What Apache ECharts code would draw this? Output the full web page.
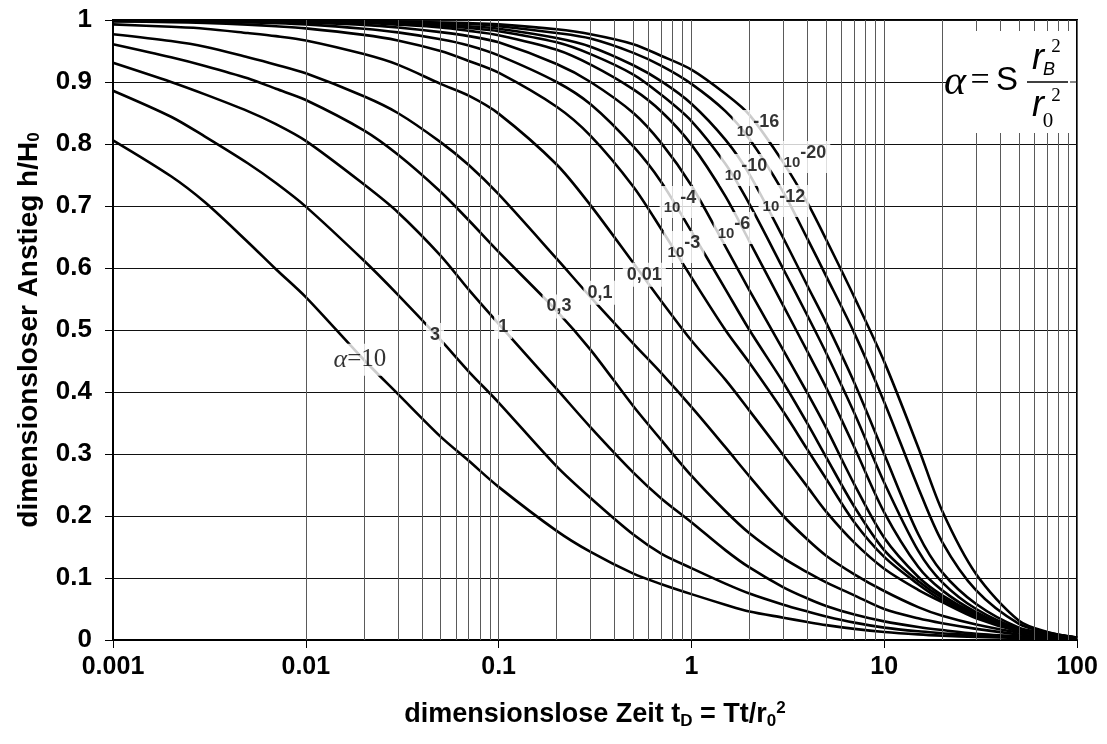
<!DOCTYPE html>
<html><head><meta charset="utf-8">
<script src="https://cdn.jsdelivr.net/npm/echarts@6/dist/echarts.min.js"></script>
<style>html,body{margin:0;padding:0;background:#fff}#c{width:1107px;height:744px}</style>
</head><body><div id="c"></div>
<script>
// shared time grid (dimensionless time t_D)
const tGrid = [0.001,0.002,0.003,0.005,0.007,0.01,0.02,0.03,0.05,0.07,0.1,0.2,0.3,0.5,0.7,1,1.5,2,3,4,5,7,10,15,20,30,50,70,100];
// h/H0 for each alpha curve
const h_a10   = [0.806,0.748,0.706,0.642,0.598,0.553,0.452,0.397,0.328,0.289,0.247,0.176,0.142,0.107,0.09,0.074,0.057,0.046,0.036,0.029,0.024,0.018,0.013,0.009,0.007,0.005,0.0035,0.0028,0.0022];
const h_a3    = [0.886,0.844,0.812,0.769,0.737,0.699,0.612,0.557,0.484,0.433,0.383,0.28,0.229,0.17,0.139,0.116,0.091,0.075,0.057,0.046,0.038,0.028,0.02,0.014,0.011,0.007,0.0045,0.0035,0.0024];
const h_a1    = [0.931,0.9,0.88,0.853,0.832,0.805,0.735,0.69,0.62,0.565,0.51,0.405,0.343,0.27,0.228,0.19,0.145,0.117,0.085,0.067,0.055,0.041,0.03,0.021,0.016,0.01,0.006,0.0045,0.0026];
const h_a03   = [0.961,0.94,0.926,0.906,0.889,0.871,0.822,0.783,0.723,0.677,0.626,0.531,0.468,0.377,0.322,0.265,0.208,0.172,0.132,0.109,0.093,0.072,0.05,0.035,0.027,0.018,0.009,0.006,0.0028];
const h_a01   = [0.977,0.966,0.957,0.94,0.928,0.914,0.877,0.85,0.803,0.766,0.719,0.615,0.553,0.478,0.43,0.376,0.311,0.264,0.2,0.162,0.136,0.106,0.079,0.053,0.039,0.025,0.012,0.0075,0.0029];
const h_a001  = [0.993,0.989,0.986,0.979,0.974,0.967,0.945,0.928,0.897,0.878,0.849,0.767,0.701,0.608,0.546,0.483,0.42,0.37,0.298,0.247,0.207,0.157,0.115,0.081,0.061,0.035,0.014,0.0085,0.003];
const h_a1e3  = [0.9977,0.9965,0.9953,0.9925,0.99,0.9865,0.976,0.967,0.95,0.934,0.915,0.86,0.813,0.731,0.662,0.585,0.5,0.447,0.368,0.307,0.26,0.19,0.134,0.09,0.064,0.038,0.0145,0.0088,0.0031];
const h_a1e4  = [0.9986,0.998,0.997,0.996,0.995,0.993,0.986,0.98,0.969,0.959,0.943,0.9,0.864,0.796,0.738,0.659,0.566,0.5,0.415,0.349,0.295,0.215,0.145,0.095,0.068,0.04,0.015,0.009,0.0032];
const h_a1e6  = [0.9992,0.9987,0.9983,0.9976,0.9967,0.9956,0.9922,0.988,0.9805,0.974,0.964,0.929,0.9,0.85,0.801,0.733,0.635,0.564,0.467,0.398,0.342,0.251,0.165,0.102,0.072,0.042,0.016,0.0095,0.0033];
const h_a1e8  = [0.9994,0.999,0.9988,0.9983,0.998,0.9973,0.9953,0.9925,0.988,0.9825,0.9755,0.952,0.928,0.888,0.852,0.799,0.716,0.643,0.539,0.465,0.407,0.311,0.206,0.118,0.08,0.045,0.017,0.01,0.0034];
const h_a1e10 = [0.9995,0.9993,0.999,0.9987,0.9983,0.998,0.9962,0.995,0.991,0.987,0.982,0.964,0.945,0.912,0.879,0.837,0.768,0.703,0.598,0.523,0.463,0.366,0.254,0.144,0.093,0.05,0.018,0.0105,0.0035];
const h_a1e12 = [0.9996,0.9994,0.9992,0.999,0.9988,0.9983,0.9968,0.996,0.9935,0.99,0.986,0.971,0.957,0.927,0.901,0.865,0.807,0.751,0.648,0.571,0.512,0.415,0.3,0.171,0.109,0.058,0.02,0.011,0.0036];
const h_a1e16 = [0.9997,0.9996,0.9994,0.9992,0.999,0.9988,0.998,0.9968,0.9955,0.994,0.99,0.979,0.97,0.947,0.926,0.897,0.853,0.808,0.722,0.647,0.587,0.495,0.384,0.246,0.158,0.08,0.026,0.012,0.0038];
const h_a1e20 = [0.9997,0.9996,0.9995,0.9993,0.9992,0.999,0.998,0.9975,0.996,0.995,0.993,0.985,0.977,0.961,0.942,0.92,0.881,0.847,0.77,0.705,0.646,0.553,0.449,0.311,0.208,0.106,0.031,0.013,0.004];
const curves = [h_a10,h_a3,h_a1,h_a03,h_a01,h_a001,h_a1e3,h_a1e4,h_a1e6,h_a1e8,h_a1e10,h_a1e12,h_a1e16,h_a1e20];

// vertical grid lines (log paper), y tick labels
const xGridValues = [];
[0.001,0.01,0.1,1,10].forEach(d=>{for(let k=1;k<=9;k++){ if(!(k===1&&d===0.001)) xGridValues.push(+(d*k).toPrecision(2)); }});
const yTicks = ['0','0.1','0.2','0.3','0.4','0.5','0.6','0.7','0.8','0.9','1'];

// curve labels: [t, h, text]
const curveLabels = [
  [0.0191,0.452,'{ai|α}{tr|=10}'],
  [0.0468,0.492,'3'],
  [0.1056,0.505,'1'],
  [0.2056,0.538,'0,3'],
  [0.3357,0.560,'0,1'],
  [0.5696,0.589,'0,01'],
  [0.873,0.7065,'{b|10}{s|-4}'],
  [0.915,0.634,'{b|10}{s|-3}'],
  [1.663,0.6645,'{b|10}{s|-6}'],
  [1.919,0.758,'{b|10}{s|-10}'],
  [2.216,0.829,'{b|10}{s|-16}'],
  [3.02,0.708,'{b|10}{s|-12}'],
  [3.88,0.779,'{b|10}{s|-20}']
];

const chart = echarts.init(document.getElementById('c'), null, {renderer:'canvas'});
const series = curves.map((h,i)=>({
  type:'line', name:'c'+i, data: tGrid.map((t,j)=>[t,h[j]]),
  showSymbol:false, smooth:0.3, silent:true,
  lineStyle:{color:'#000', width:2.6}, z:3
}));
series.push({
  type:'line', data:[], silent:true, z:1,
  markLine:{silent:true, symbol:['none','none'], label:{show:false},
    lineStyle:{color:'#5a5a5a', width:1, type:'solid'},
    data: xGridValues.map(v=>({xAxis:v}))}
});
const LF = 'Liberation Sans, Arial, sans-serif';
const SF = 'Liberation Serif, Times New Roman, serif';
series.push({
  type:'scatter', symbolSize:0, silent:true, z:6,
  data: curveLabels.map(l=>({value:[l[0],l[1]], name:l[2]})),
  label:{show:true, position:'inside', formatter:p=>p.name,
    backgroundColor:'#fff', padding:[3,4], color:'#000',
    fontFamily:LF, fontWeight:'bold', fontSize:18,
    rich:{
      b:{color:'#000', fontSize:15, fontWeight:'bold', fontFamily:LF, verticalAlign:'bottom', lineHeight:26, padding:[9,0,0,0]},
      s:{color:'#000', fontSize:18, fontWeight:'bold', fontFamily:LF, verticalAlign:'top', lineHeight:26, padding:[0,0,9,0]},
      ai:{color:'#000', fontSize:26, fontStyle:'italic', fontFamily:SF, fontWeight:'normal'},
      tr:{color:'#000', fontSize:25, fontFamily:SF, fontWeight:'normal'}
    }}
});

chart.setOption({
  animation:false,
  backgroundColor:'#fff',
  grid:{left:113, right:30, top:20, bottom:104, show:true, borderColor:'#000', borderWidth:2, containLabel:false},
  xAxis:{type:'log', logBase:10, min:0.001, max:100,
    axisLine:{show:true, lineStyle:{color:'#000', width:2}},
    axisTick:{show:true, length:8, inside:false, lineStyle:{color:'#000', width:1}},
    axisLabel:{fontFamily:LF, fontWeight:'bold', fontSize:25, color:'#000', margin:15,
      formatter:v=>String(Number(v.toPrecision(1)))},
    splitLine:{show:true, lineStyle:{color:'#5a5a5a', width:1}},
    name:'dimensionslose Zeit t{sub|D} = Tt/r{sub|0}{sup|2}', nameLocation:'middle', nameGap:60,
    nameTextStyle:{fontFamily:LF, fontWeight:'bold', fontSize:27, color:'#000',
      rich:{sub:{color:'#000', fontSize:17, fontWeight:'bold', fontFamily:LF, verticalAlign:'bottom', padding:[11,0,0,0]},
            sup:{color:'#000', fontSize:17, fontWeight:'bold', fontFamily:LF, verticalAlign:'top', padding:[0,0,13,0]}}}
  },
  yAxis:{type:'value', min:0, max:1, interval:0.1,
    axisLine:{show:true, lineStyle:{color:'#000', width:2}},
    axisTick:{show:true, length:8, inside:false, lineStyle:{color:'#000', width:1}},
    axisLabel:{fontFamily:LF, fontWeight:'bold', fontSize:26, color:'#000', margin:21,
      formatter:(v,i)=>yTicks[i]},
    splitLine:{show:true, lineStyle:{color:'#111', width:1}},
    name:'dimensionsloser Anstieg h/H{sub|0}', nameLocation:'middle', nameGap:70,
    nameTextStyle:{fontFamily:LF, fontWeight:'bold', fontSize:28, color:'#000',
      rich:{sub:{color:'#000', fontSize:17, fontWeight:'bold', fontFamily:LF, verticalAlign:'bottom', padding:[11,0,0,0]}}}
  },
  graphic:[
    {type:'rect', shape:{x:946, y:31, width:130, height:102}, style:{fill:'#fff'}, z:10},
    {type:'text', x:955, y:83, style:{text:'α', font:'italic 42px "Liberation Serif", serif', fill:'#000', align:'center', verticalAlign:'middle'}, z:11},
    {type:'text', x:980, y:81, style:{text:'=', font:'34px "Liberation Serif", serif', fill:'#000', align:'center', verticalAlign:'middle'}, z:11},
    {type:'text', x:1007, y:81, style:{text:'S', font:'33px "Liberation Sans", Arial', fill:'#000', align:'center', verticalAlign:'middle'}, z:11},
    {type:'text', x:1038, y:59, style:{text:'r', font:'italic 36px "Liberation Sans", Arial', fill:'#000', align:'center', verticalAlign:'middle'}, z:11},
    {type:'text', x:1049, y:70, style:{text:'B', font:'italic 18px "Liberation Sans", Arial', fill:'#000', align:'center', verticalAlign:'middle'}, z:11},
    {type:'text', x:1056, y:47, style:{text:'2', font:'19px "Liberation Serif", serif', fill:'#000', align:'center', verticalAlign:'middle'}, z:11},
    {type:'line', shape:{x1:1027, y1:82, x2:1068, y2:82}, style:{stroke:'#000', lineWidth:1.5}, z:11},
    {type:'line', shape:{x1:1070, y1:82, x2:1077, y2:82}, style:{stroke:'#111', lineWidth:1}, z:11},
    {type:'text', x:1038, y:106, style:{text:'r', font:'italic 36px "Liberation Sans", Arial', fill:'#000', align:'center', verticalAlign:'middle'}, z:11},
    {type:'text', x:1048, y:121, style:{text:'0', font:'21px "Liberation Serif", serif', fill:'#000', align:'center', verticalAlign:'middle'}, z:11},
    {type:'text', x:1056, y:96, style:{text:'2', font:'19px "Liberation Serif", serif', fill:'#000', align:'center', verticalAlign:'middle'}, z:11}
  ],
  series: series
});
</script></body></html>
